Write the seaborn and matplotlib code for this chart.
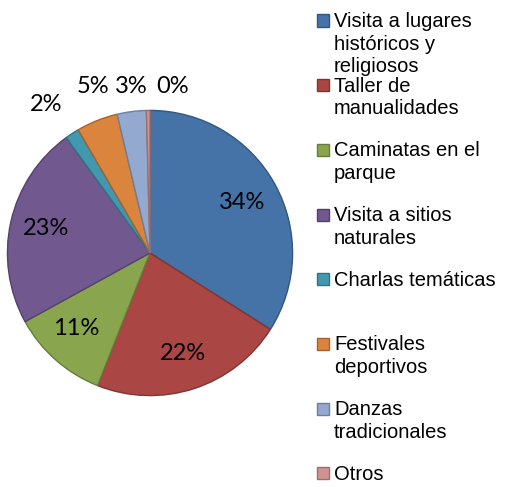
import matplotlib
matplotlib.use("Agg")
import matplotlib.pyplot as plt
import matplotlib.colors as mcolors
from matplotlib.patches import Rectangle
import seaborn as sns

# data (percent of answers)
categories = [
    "Visita a lugares\nhistóricos y\nreligiosos",
    "Taller de\nmanualidades",
    "Caminatas en el\nparque",
    "Visita a sitios\nnaturales",
    "Charlas temáticas",
    "Festivales\ndeportivos",
    "Danzas\ntradicionales",
    "Otros",
]
shares = [34.0, 22.0, 11.0, 23.0, 1.6, 4.7, 3.3, 0.4]
colors = ["#4572A7", "#AA4643", "#89A54E", "#71588F",
          "#4198AF", "#DB843D", "#93A9CF", "#D19392"]

sns.set_theme(style="white")
plt.rcParams["font.family"] = ["Liberation Sans", "DejaVu Sans"]

fig = plt.figure(figsize=(5.05, 4.87), dpi=100)
ax = fig.add_axes([6 / 505, 1 - 397 / 487, 288 / 505, 288 / 487])

edges = [tuple(c * 0.75 for c in mcolors.to_rgb(col)) for col in colors]
wedges, texts, autotexts = ax.pie(
    shares, colors=colors, startangle=90, counterclock=False,
    autopct="%.0f%%", pctdistance=0.74,
    wedgeprops=dict(linewidth=1.0),
    textprops=dict(family="Lato", fontsize=17, color="black"),
)
for w, e in zip(wedges, edges):
    w.set_edgecolor(e)
ax.set_xlim(-1.01, 1.01)
ax.set_ylim(-1.01, 1.01)
ax.set_aspect("equal")
ax.axis("off")

# small slices: labels sit above the pie in a row, like the original
outside = {4: (-0.73, 1.04), 5: (-0.40, 1.17), 6: (-0.13, 1.17), 7: (0.16, 1.17)}
for i, pos in outside.items():
    autotexts[i].set_position(pos)
autotexts[3].set_position((-0.73, 0.17))
autotexts[2].set_position((-0.52, -0.53))

# legend with fixed slots, as in the spreadsheet export
x_txt = 334 / 505
for i, (lab, col, ed) in enumerate(zip(categories, colors, edges)):
    base = 26.5 + i * 64.7
    fig.text(x_txt, 1 - (base - 14.7) / 487, lab, fontsize=14.5, va="top",
             ha="left", color="black", linespacing=1.25)
    fig.add_artist(Rectangle((317 / 505, 1 - base / 487), 12 / 505, 12 / 487,
                             transform=fig.transFigure, facecolor=col,
                             edgecolor=ed, linewidth=1.0))

fig.savefig("out.png", dpi=100)
